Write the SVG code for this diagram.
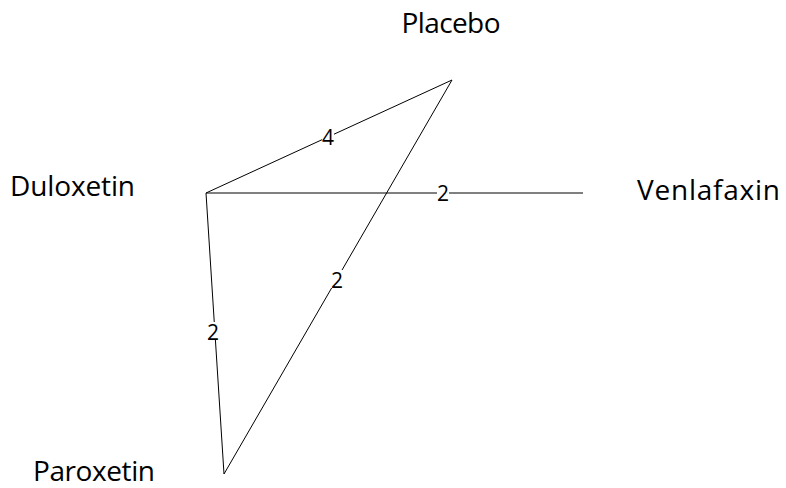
<svg xmlns="http://www.w3.org/2000/svg" width="786" height="488" viewBox="0 0 786 488">
<style>
.node{font-family:"Open Sans","Noto Sans",sans-serif;font-size:28px;fill:#000}
.lbl{font-family:"Open Sans","Noto Sans",sans-serif;font-size:21px;fill:#000;text-anchor:middle}
.edge{stroke:#000;stroke-width:1;fill:none}
.bg{fill:#fff}
</style>
<rect width="786" height="488" fill="#fff"/>
<g id="connectors">
<line class="edge" x1="206" y1="193" x2="452" y2="80"/>
<line class="edge" x1="206" y1="193" x2="583" y2="193"/>
<line class="edge" x1="206" y1="193" x2="224" y2="474"/>
<line class="edge" x1="452" y1="80" x2="224" y2="474"/>
<rect class="bg" x="322" y="128" width="12" height="18"/>
<text class="lbl" x="328" y="145">4</text>
<rect class="bg" x="437" y="184" width="12" height="18"/>
<text class="lbl" x="443" y="201">2</text>
<rect class="bg" x="207" y="322" width="12" height="18"/>
<text class="lbl" x="213" y="340">2</text>
<rect class="bg" x="331" y="270" width="12" height="18"/>
<text class="lbl" x="337" y="288">2</text>
</g>
<g id="placebo"><text class="node" x="451" y="33" text-anchor="middle" textLength="99" lengthAdjust="spacing">Placebo</text></g>
<g id="duloxetin"><text class="node" x="10" y="196" textLength="125" lengthAdjust="spacing">Duloxetin</text></g>
<g id="venlafaxin"><text class="node" x="637" y="200" textLength="143" lengthAdjust="spacing">Venlafaxin</text></g>
<g id="paroxetin"><text class="node" x="33" y="481" textLength="122" lengthAdjust="spacing">Paroxetin</text></g>
</svg>
